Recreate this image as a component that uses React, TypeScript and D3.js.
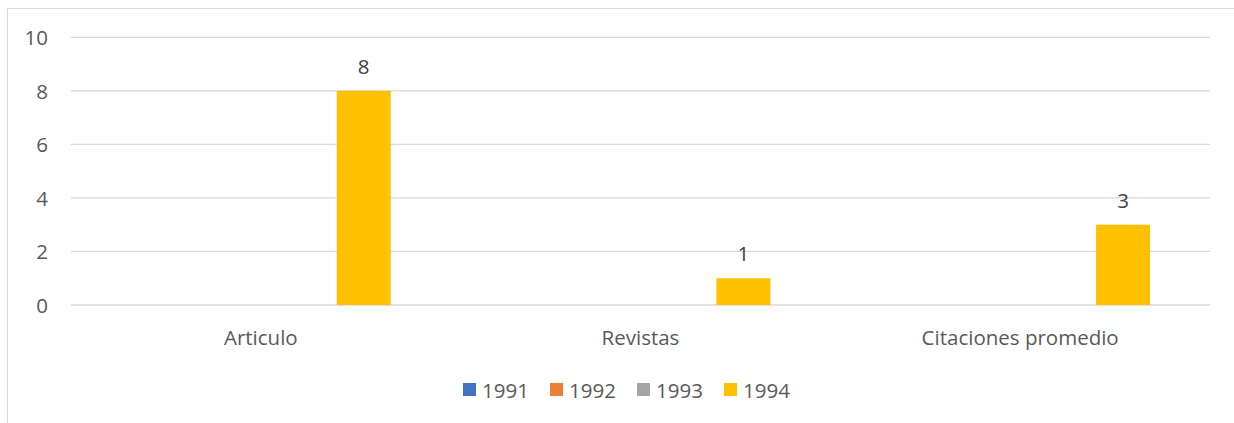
import React from 'react';
import * as d3 from 'd3';

const categories = ['Articulo', 'Revistas', 'Citaciones promedio'];
const seriesNames = ['1991', '1992', '1993', '1994'];
const seriesColors = ['#4472C4', '#ED7D31', '#A5A5A5', '#FFC000'];
// values per series, one per category (null = empty)
const values1991: (number | null)[] = [null, null, null];
const values1992: (number | null)[] = [null, null, null];
const values1993: (number | null)[] = [null, null, null];
const values1994: (number | null)[] = [8, 1, 3];
const yTicks = [0, 2, 4, 6, 8, 10];

const seriesValues = [values1991, values1992, values1993, values1994];

const W = 1234;
const H = 423;
const FONT = '"Open Sans", sans-serif';
const FS = 20.5;
const TEXT = '#595959';

const App: React.FC = () => {
  const x = d3.scaleBand<string>().domain(categories).range([71, 1210]);
  const xInner = d3
    .scaleBand<string>()
    .domain(seriesNames)
    .range([0, x.bandwidth()])
    .paddingInner(0.213)
    .paddingOuter(0.874);
  const y = d3.scaleLinear().domain([0, 10]).range([305, 37.3]);

  return (
    <svg width={W} height={H} style={{ position: 'absolute', left: 0, top: 0 }}>
      <rect x={0} y={0} width={W} height={H} fill="#fff" />
      <rect x={7.5} y={8.5} width={1230} height={430} fill="none" stroke="#d9d9d9" strokeWidth={1} />

      {/* gridlines + y labels */}
      {yTicks.map((t) => (
        <g key={t}>
          <line x1={71} x2={1210} y1={y(t)} y2={y(t)} stroke="#d9d9d9" strokeWidth={1.3} />
          <text x={48} y={y(t)} textAnchor="end" dominantBaseline="central" fill={TEXT} fontFamily={FONT} fontSize={FS}>
            {t}
          </text>
        </g>
      ))}

      {/* bars */}
      {seriesValues.map((vals, si) =>
        vals.map((v, ci) => {
          if (v == null) return null;
          const bx = (x(categories[ci]) ?? 0) + (xInner(seriesNames[si]) ?? 0);
          return (
            <g key={`${si}-${ci}`}>
              <rect x={bx} y={y(v)} width={xInner.bandwidth()} height={y(0) - y(v)} fill={seriesColors[si]} />
              <text
                x={bx + xInner.bandwidth() / 2}
                y={y(v) - 25}
                textAnchor="middle"
                dominantBaseline="central"
                fill="#404040"
                fontFamily={FONT}
                fontSize={FS}
              >
                {v}
              </text>
            </g>
          );
        })
      )}

      {/* category labels */}
      {categories.map((c) => (
        <text
          key={c}
          x={(x(c) ?? 0) + x.bandwidth() / 2}
          y={337}
          textAnchor="middle"
          dominantBaseline="central"
          fill={TEXT}
          fontFamily={FONT}
          fontSize={FS}
        >
          {c}
        </text>
      ))}

      {/* legend */}
      {seriesNames.map((s, i) => (
        <g key={s} transform={`translate(${463 + i * 87},383)`}>
          <rect x={0} y={0} width={13} height={13} fill={seriesColors[i]} />
          <text x={19} y={7} dominantBaseline="central" fill={TEXT} fontFamily={FONT} fontSize={FS}>
            {s}
          </text>
        </g>
      ))}
    </svg>
  );
};

export default App;
